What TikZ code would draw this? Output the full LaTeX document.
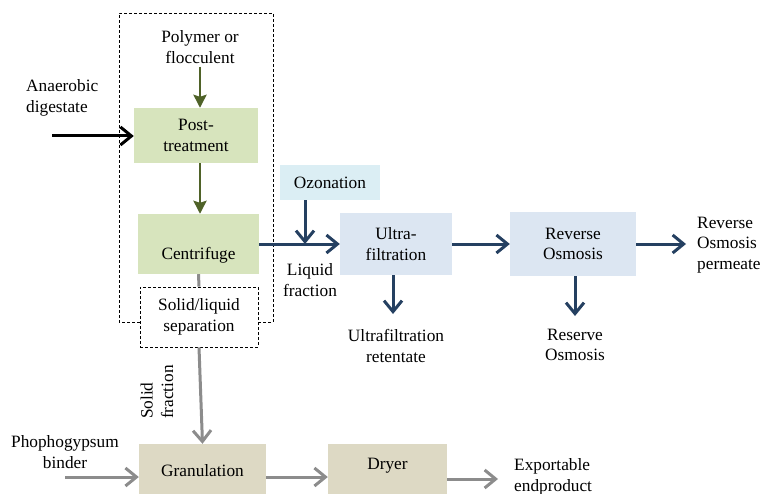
\documentclass[tikz,border=0pt]{standalone}
\usepackage{fontspec}
\setmainfont{Liberation Serif}
\usetikzlibrary{arrows.meta}
\definecolor{gfill}{HTML}{D7E4BD}
\definecolor{bfill}{HTML}{DCE6F2}
\definecolor{ofill}{HTML}{DBEEF4}
\definecolor{tfill}{HTML}{DDD9C4}
\definecolor{garrow}{HTML}{4F6228}
\definecolor{barrow}{HTML}{254061}
\definecolor{grarrow}{HTML}{8C8C8C}
\tikzset{
  txt/.style={font=\fontsize{17.3}{20.5}\selectfont, inner sep=0pt, align=center},
  box/.style={txt, draw=none, inner sep=0pt},
  tip/.style={-{Straight Barb[length=11pt,width=18pt,line width=3pt]}, line width=3pt},
  greenarrow/.style={-{Stealth[length=13pt,width=13pt,inset=2pt]}, line width=2.8pt, draw=garrow, fill=garrow},
  bluearrow/.style={tip, draw=barrow},
  grayarrow/.style={tip, draw=grarrow},
  grayline/.style={line width=3pt, draw=grarrow},
  dashbox/.style={draw=black, densely dashed, line width=0.7pt},
}
\begin{document}
\begin{tikzpicture}[x=1pt,y={(0pt,-1pt)}]
\useasboundingbox (0,0) rectangle (762,494);
\fill[white] (0,0) rectangle (762,494);

% outer dashed frame
\draw[dashbox] (140,322) -- (119,322) -- (119,13) -- (273,13) -- (273,322) -- (258,322);

% boxes
\node[box, fill=gfill, minimum width=124pt, minimum height=55pt] (post) at (196,135.5) {Post-\\treatment};
\node[box, fill=gfill, minimum width=121pt, minimum height=60pt] (cen) at (198.5,244) {};
\node[txt] (centxt) at (198.5,255) {Centrifuge};
\node[box, fill=white, dashbox, minimum width=118pt, minimum height=60pt] (sl) at (199,317) {Solid/liquid\\separation};
\node[box, fill=ofill, minimum width=100pt, minimum height=35pt] (ozo) at (330,182.5) {Ozonation};
\node[box, fill=bfill, minimum width=112pt, minimum height=62pt] (uf) at (396,244) {Ultra-\\filtration};
\node[box, fill=bfill, minimum width=126pt, minimum height=64pt] (ro) at (573,244) {Reverse\\Osmosis};
\node[box, fill=tfill, minimum width=127pt, minimum height=50pt] (gran) at (202.5,469) {};
\node[txt] (grantxt) at (202.5,471) {Granulation};
\node[box, fill=tfill, minimum width=119pt, minimum height=50pt] (dry) at (387.5,469) {};
\node[txt] (drytxt) at (387.5,466) {Dryer};

% text labels
\node[txt] (poly) at (200,47) {Polymer or\\flocculent};
\node[txt, align=left, anchor=west] (ana) at (26,98) {Anaerobic\\digestate};
\node[txt] (liq) at (310,280) {Liquid\\fraction};
\node[txt] (uret) at (396,346) {Ultrafiltration\\retentate};
\node[txt] (rret) at (575,345) {Reserve\\Osmosis};
\node[txt, align=left, anchor=west] (perm) at (697,245) {Reverse\\Osmosis\\permeate};
\node[txt, align=left, rotate=90] (solid) at (157,392) {Solid\\fraction};
\node[txt] (phos) at (65,452) {Phophogypsum\\binder};
\node[txt, align=left, anchor=west] (exp) at (514,477) {Exportable\\endproduct};

% coordinates for free ends
\coordinate (anaS) at (52,136);
\coordinate (ozoJ) at (305,244);
\coordinate (phosS) at (65,477);
\coordinate (expE) at (498,479);

% connectors
\draw[tip, draw=black] (anaS) -- (post.west |- anaS);
\draw[greenarrow] (200,67) -- (post.north -| 200,0);
\draw[greenarrow] (post.south -| 200,0) -- (cen.north -| 200,0);
\draw[bluearrow] (cen.east) -- (uf.west);
\draw[bluearrow] (ozo.south -| ozoJ) -- (ozoJ);
\draw[bluearrow] (uf.east) -- (ro.west);
\draw[bluearrow] (ro.east) -- (ro.east -| 686,0);
\draw[bluearrow] (uf.south -| 393,0) -- (393,314);
\draw[bluearrow] (ro.south -| 575,0) -- (575,316);
\draw[grayline] (cen.south) -- (sl.north);
\draw[grayarrow] (sl.south) -- (gran.north);
\draw[grayarrow] (phosS) -- (gran.west |- phosS);
\draw[grayarrow] (gran.east |- 0,477) -- (dry.west |- 0,477);
\draw[grayarrow] (dry.east |- expE) -- (expE);
\end{tikzpicture}
\end{document}
